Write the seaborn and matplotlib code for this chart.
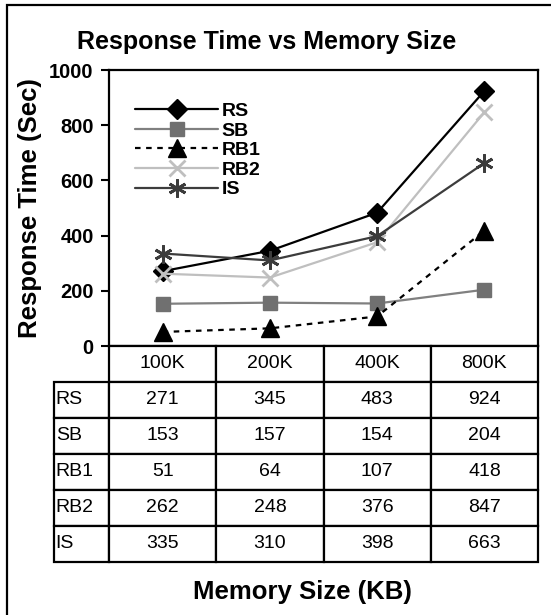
import matplotlib
matplotlib.use("Agg")
import matplotlib.pyplot as plt
import seaborn as sns
import pandas as pd
from matplotlib.patches import Rectangle
from matplotlib.table import Table

# ---- data ----
memory_sizes = ["100K", "200K", "400K", "800K"]
series_names = ["RS", "SB", "RB1", "RB2", "IS"]
rs = [271, 345, 483, 924]
sb = [153, 157, 154, 204]
rb1 = [51, 64, 107, 418]
rb2 = [262, 248, 376, 847]
is_ = [335, 310, 398, 663]
y_ticks = [0, 200, 400, 600, 800, 1000]

values = [rs, sb, rb1, rb2, is_]

sns.set_style("white")
plt.rcParams["font.family"] = ["Liberation Sans", "DejaVu Sans"]
plt.rcParams["text.color"] = "black"
plt.rcParams["axes.labelcolor"] = "black"
plt.rcParams["xtick.color"] = "black"
plt.rcParams["ytick.color"] = "black"

W, H = 551, 615
fig = plt.figure(figsize=(W / 100, H / 100), dpi=100)

def fx(px):
    return px / W

def fy(py):
    return 1 - py / H

ax_l, ax_r, ax_t, ax_b = 109, 538, 70, 346
ax = fig.add_axes([fx(ax_l), fy(ax_b), fx(ax_r - ax_l), (ax_b - ax_t) / H])

styles = {
    "RS": dict(color="#000000", marker="D", ms=10.5, ls="-", mfc="#000000", mec="#000000"),
    "SB": dict(color="#808080", marker="s", ms=10.5, ls="-", mfc="#707070", mec="#707070"),
    "RB1": dict(color="#000000", marker="^", ms=13, ls=(0, (2.5, 2.5)), mfc="#000000", mec="#000000"),
    "RB2": dict(color="#BFBFBF", marker="x", ms=11, ls="-", mfc="#BFBFBF", mec="#BFBFBF", mew=2),
    "IS": dict(color="#3C3C3C", marker=(6, 2, 0), ms=13, ls="-", mfc="#3C3C3C", mec="#3C3C3C", mew=2),
}

for name, vals in zip(series_names, values):
    st = styles[name]
    df = pd.DataFrame({"size": memory_sizes, "time": vals})
    sns.lineplot(data=df, x="size", y="time", ax=ax, color=st["color"],
                 marker=st["marker"], markersize=st["ms"], linestyle=st["ls"],
                 markerfacecolor=st["mfc"], markeredgecolor=st["mec"],
                 markeredgewidth=st.get("mew", 1), linewidth=1.6, label=name,
                 sort=False)

ax.set_xlim(-0.5, 3.5)
ax.set_ylim(0, 1000)
ax.set_yticks(y_ticks)
ax.set_yticklabels([str(t) for t in y_ticks], fontsize=14.5, fontweight="bold")
ax.set_xticks([])
ax.set_xlabel("")
ax.set_ylabel("")
for sp in ax.spines.values():
    sp.set_visible(True)
    sp.set_linewidth(1.6)
    sp.set_color("black")
ax.tick_params(axis="y", direction="out", length=6, width=1.5, pad=5, left=True, colors="black")

leg = ax.legend(loc="upper left", bbox_to_anchor=(0.06, 0.882), frameon=False,
                prop={"weight": "bold", "size": 14}, handlelength=4.3,
                handletextpad=0.15, labelspacing=0.1, borderpad=0, borderaxespad=0)

# ---- data table ----
t_l, t_r, t_t, t_b = 54, 538, 346, 562
tax = fig.add_axes([fx(t_l), fy(t_b), fx(t_r - t_l), (t_b - t_t) / H])
tax.axis("off")
label_w = (ax_l - t_l) / (t_r - t_l)
col_w = (1 - label_w) / 4
row_h = 1 / 6
tbl = Table(tax, bbox=[0, 0, 1, 1])
# header row
c = tbl.add_cell(0, 0, width=label_w, height=row_h, text="", loc="left")
c.visible_edges = "open"
for j, m in enumerate(memory_sizes, start=1):
    tbl.add_cell(0, j, width=col_w, height=row_h, text=m, loc="center")
for i, (name, vals) in enumerate(zip(series_names, values), start=1):
    tbl.add_cell(i, 0, width=label_w, height=row_h, text=name, loc="left")
    for j, v in enumerate(vals, start=1):
        tbl.add_cell(i, j, width=col_w, height=row_h, text=str(v), loc="center")
tbl.auto_set_font_size(False)
tbl.set_fontsize(14)
for (r, cidx), cell in tbl.get_celld().items():
    cell.set_linewidth(1.6)
    cell.set_edgecolor("black")
    cell.PAD = 0.03
    cell.get_text().set_fontsize(14)
    cell.get_text().set_color("black")
tax.add_table(tbl)

# ---- titles ----
fig.text(fx(267), fy(49), "Response Time vs Memory Size", ha="center", va="baseline",
         fontsize=18, fontweight="bold")
fig.text(fx(302), fy(599), "Memory Size (KB)", ha="center", va="baseline",
         fontsize=18.5, fontweight="bold")
fig.text(fx(30), fy(208), "Response Time (Sec)", ha="center", va="center",
         rotation=90, fontsize=18.5, fontweight="bold")

# outer frame (left and top edges visible)
fig.add_artist(Rectangle((fx(7), -0.5), 2, fy(5) + 0.5, transform=fig.transFigure,
                         fill=False, lw=1.6, edgecolor="black"))

fig.savefig("out.png", dpi=100, facecolor="white")
